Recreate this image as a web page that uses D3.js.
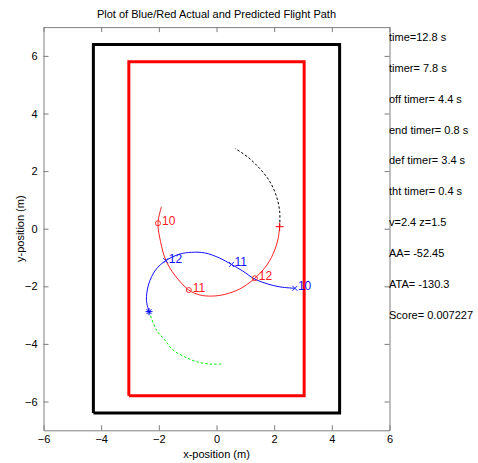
<!DOCTYPE html>
<html>
<head>
<meta charset="utf-8">
<script src="https://cdn.jsdelivr.net/npm/d3@7"></script>
<style>
  html, body { margin: 0; padding: 0; background: #fff; }
  svg { display: block; font-family: "Liberation Sans", Arial, Helvetica, sans-serif; }
</style>
</head>
<body>
<svg id="chart" width="478" height="463"></svg>
<script>
// Arena boundaries (x half-width, y half-height)
const outerBox = [4.27, 6.4];
const innerBox = [3.04, 5.8];

// Red aircraft: flown path up to now, and predicted path ahead
const redActual = [
  [-1.91, 0.76], [-2.03, 0.19], [-1.94, -0.45], [-1.76, -1.09], [-1.45, -1.61],
  [-0.96, -2.13], [-0.58, -2.30], [-0.17, -2.34], [0.29, -2.28], [0.81, -2.09],
  [1.33, -1.72], [1.75, -1.26], [2.02, -0.74], [2.14, -0.33], [2.19, 0.07]
];
const redPredicted = [
  [2.19, 0.07], [2.19, 0.61], [2.07, 1.15], [1.84, 1.65], [1.49, 2.10],
  [1.08, 2.49], [0.64, 2.79]
];
// Blue aircraft: flown path up to now, and predicted path ahead
const blueActual = [
  [2.72, -2.07], [2.20, -2.02], [1.78, -1.92], [1.33, -1.75], [0.91, -1.47],
  [0.52, -1.24], [0.11, -1.02], [-0.41, -0.84], [-0.87, -0.82], [-1.27, -0.88],
  [-1.76, -1.11], [-2.11, -1.43], [-2.35, -1.92], [-2.43, -2.48], [-2.34, -2.88]
];
const bluePredicted = [
  [-2.34, -2.88], [-2.08, -3.52], [-1.80, -3.86], [-1.51, -4.21], [-1.10, -4.45],
  [-0.69, -4.62], [-0.23, -4.70], [0.17, -4.70]
];

// Time stamps along each path
const stampLabels = ["10", "11", "12"];
const redStamps = [[-2.03, 0.19], [-0.96, -2.13], [1.33, -1.72]];
const blueStamps = [[2.72, -2.07], [0.52, -1.24], [-1.76, -1.11]];

// Current positions
const redNow = [2.19, 0.07];
const blueNow = [-2.34, -2.88];

// Status read-out beside the plot
const statusLines = [
  "time=12.8 s", "timer= 7.8 s", "off timer= 4.4 s", "end timer= 0.8 s",
  "def timer= 3.4 s", "tht timer= 0.4 s", "v=2.4 z=1.5", "AA= -52.45",
  "ATA= -130.3", "Score= 0.007227"
];

const xTicks = [-6, -4, -2, 0, 2, 4, 6];
const yTicks = [-6, -4, -2, 0, 2, 4, 6];

const svg = d3.select("#chart");
const x = d3.scaleLinear().domain([-6, 6]).range([43.5, 389.5]);
const y = d3.scaleLinear().domain([-7, 7]).range([430.3, 27.1]);
const axisColor = "#7f7f7f";

// Axes with inward ticks on all four sides
const gx = svg.append("g").attr("transform", `translate(0,${y(-7)})`)
  .call(d3.axisBottom(x).tickValues(xTicks).tickSizeInner(-5).tickSizeOuter(0).tickPadding(5));
const gxTop = svg.append("g").attr("transform", `translate(0,${y(7)})`)
  .call(d3.axisTop(x).tickValues(xTicks).tickSizeInner(-5).tickSizeOuter(0).tickFormat(""));
const gy = svg.append("g").attr("transform", `translate(${x(-6)},0)`)
  .call(d3.axisLeft(y).tickValues(yTicks).tickSizeInner(-5).tickSizeOuter(0).tickPadding(6));
const gyRight = svg.append("g").attr("transform", `translate(${x(6)},0)`)
  .call(d3.axisRight(y).tickValues(yTicks).tickSizeInner(-5).tickSizeOuter(0).tickFormat(""));
[gx, gxTop, gy, gyRight].forEach(g => {
  g.selectAll("path.domain").attr("stroke", axisColor);
  g.selectAll(".tick line").attr("stroke", axisColor);
  g.selectAll(".tick text").attr("fill", "#000").attr("font-size", 11)
    .attr("font-family", "Liberation Sans, Arial, sans-serif");
});

// Arena rectangles
function rectOf(box) {
  return [[-box[0], -box[1]], [box[0], -box[1]], [box[0], box[1]], [-box[0], box[1]], [-box[0], -box[1]]];
}
const line = d3.line().x(d => x(d[0])).y(d => y(d[1]));
const curve = d3.line().x(d => x(d[0])).y(d => y(d[1])).curve(d3.curveCatmullRom);

svg.append("path").attr("d", line(rectOf(outerBox)))
  .attr("fill", "none").attr("stroke", "#000").attr("stroke-width", 3).attr("stroke-linejoin", "miter");
svg.append("path").attr("d", line(rectOf(innerBox)))
  .attr("fill", "none").attr("stroke", "#ff0000").attr("stroke-width", 3).attr("stroke-linejoin", "miter");

// Flight paths
svg.append("path").attr("d", curve(redActual))
  .attr("fill", "none").attr("stroke", "#ff2020").attr("stroke-width", 1);
svg.append("path").attr("d", curve(redPredicted))
  .attr("fill", "none").attr("stroke", "#000").attr("stroke-width", 1).attr("stroke-dasharray", "2.5,2");
svg.append("path").attr("d", curve(blueActual))
  .attr("fill", "none").attr("stroke", "#1010ff").attr("stroke-width", 1);
svg.append("path").attr("d", curve(bluePredicted))
  .attr("fill", "none").attr("stroke", "#00ee00").attr("stroke-width", 1).attr("stroke-dasharray", "2.5,2");

// Time stamp markers: circles for red, crosses for blue
svg.selectAll("circle.redStamp").data(redStamps).join("circle")
  .attr("class", "redStamp")
  .attr("cx", d => x(d[0])).attr("cy", d => y(d[1])).attr("r", 2.5)
  .attr("fill", "none").attr("stroke", "#ff3030").attr("stroke-width", 1);
svg.selectAll("path.blueStamp").data(blueStamps).join("path")
  .attr("class", "blueStamp")
  .attr("d", d => {
    const cx = x(d[0]), cy = y(d[1]), s = 2.5;
    return `M${cx - s},${cy - s}L${cx + s},${cy + s}M${cx - s},${cy + s}L${cx + s},${cy - s}`;
  })
  .attr("stroke", "#2020ff").attr("stroke-width", 1);

svg.selectAll("text.redLabel").data(redStamps).join("text")
  .attr("class", "redLabel")
  .attr("x", d => x(d[0]) + 4).attr("y", d => y(d[1]) + 2)
  .attr("font-size", 12).attr("fill", "#ff2020")
  .text((d, i) => stampLabels[i]);
svg.selectAll("text.blueLabel").data(blueStamps).join("text")
  .attr("class", "blueLabel")
  .attr("x", d => x(d[0]) + 3).attr("y", d => y(d[1]) + 2)
  .attr("font-size", 12).attr("fill", "#1010ff")
  .text((d, i) => stampLabels[i]);

// Current positions: '+' for red, '*' for blue
{
  const cx = x(redNow[0]), cy = y(redNow[1]), s = 4;
  svg.append("path").attr("d", `M${cx - s},${cy}L${cx + s},${cy}M${cx},${cy - s}L${cx},${cy + s}`)
    .attr("stroke", "#ff0000").attr("stroke-width", 1);
}
{
  const cx = x(blueNow[0]), cy = y(blueNow[1]), s = 3.5, d = 2.5;
  svg.append("path").attr("d",
    `M${cx - s},${cy}L${cx + s},${cy}M${cx},${cy - s}L${cx},${cy + s}` +
    `M${cx - d},${cy - d}L${cx + d},${cy + d}M${cx - d},${cy + d}L${cx + d},${cy - d}`)
    .attr("stroke", "#0000ff").attr("stroke-width", 1);
}

// Title and axis labels
svg.append("text").attr("x", x(0)).attr("y", 18).attr("text-anchor", "middle")
  .attr("font-size", 11).text("Plot of Blue/Red Actual and Predicted Flight Path");
svg.append("text").attr("x", x(0)).attr("y", 458).attr("text-anchor", "middle")
  .attr("font-size", 11).text("x-position (m)");
svg.append("text").attr("transform", `translate(24,${y(0)}) rotate(-90)`).attr("text-anchor", "middle")
  .attr("font-size", 11).text("y-position (m)");

// Status read-out
svg.selectAll("text.status").data(statusLines).join("text")
  .attr("class", "status")
  .attr("x", 389).attr("y", (d, i) => 41 + i * 30.85)
  .attr("font-size", 11).text(d => d);
</script>
</body>
</html>
